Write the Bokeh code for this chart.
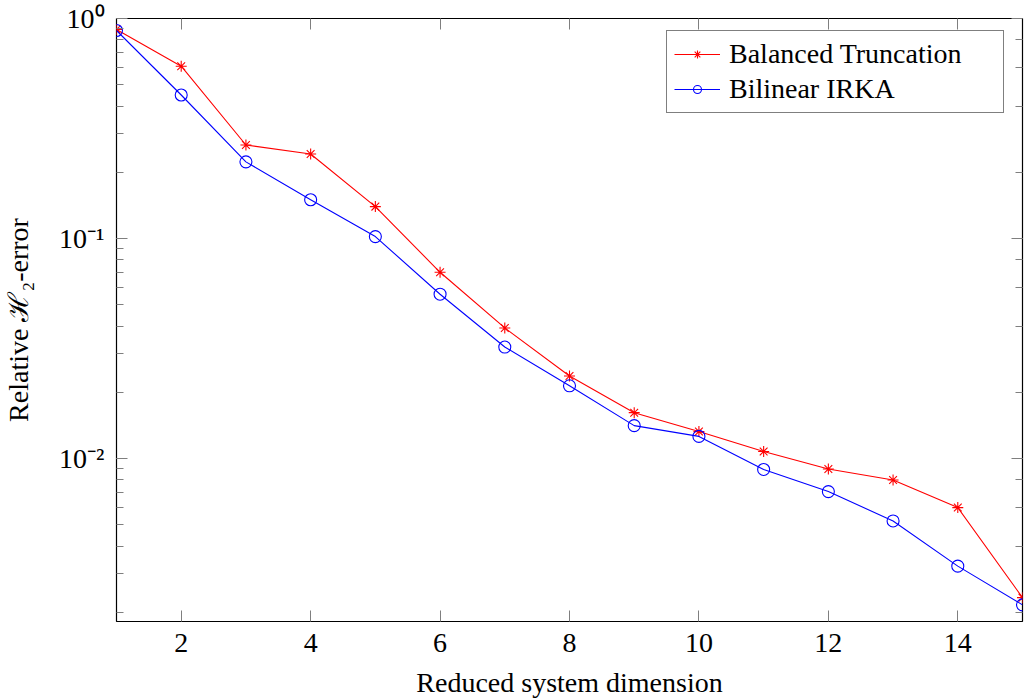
from bokeh.plotting import figure
from bokeh.models import Range1d, LinearAxis, LogAxis, CustomJSTickFormatter, FixedTicker, Legend, LegendItem
from bokeh.embed import file_html
from bokeh.resources import INLINE

dims = [1, 2, 3, 4, 5, 6, 7, 8, 9, 10, 11, 12, 13, 14, 15]
bt_err = [0.892, 0.607, 0.266, 0.242, 0.1396, 0.0702, 0.0392, 0.0237, 0.01615,
          0.01325, 0.01076, 0.00895, 0.00798, 0.00598, 0.00233]
irka_err = [0.882, 0.449, 0.223, 0.150, 0.102, 0.0558, 0.0321, 0.0214, 0.0141,
            0.0126, 0.00891, 0.00707, 0.0052, 0.00324, 0.00216]
x_ticks = [2, 4, 6, 8, 10, 12, 14]
x_label = "Reduced system dimension"
y_label = "Relative \u210B\u2082-error"
names = ["Balanced Truncation", "Bilinear IRKA"]

FONT = "Liberation Serif"
FS = "28px"
TICK = "#7f7f7f"

p = figure(width=1024, height=700, y_axis_type="log",
           x_range=Range1d(1, 15), y_range=Range1d(0.001815, 1.0),
           output_backend="svg", toolbar_location=None,
           min_border_left=115, min_border_right=2, min_border_top=18, min_border_bottom=78)
p.grid.visible = False
p.outline_line_color = "black"
p.outline_line_width = 1.2
p.background_fill_color = "white"
p.border_fill_color = "white"

sup = CustomJSTickFormatter(code="""
const e = Math.round(Math.log10(tick));
const m = {'-':'\u207B','0':'\u2070','1':'\u00B9','2':'\u00B2','3':'\u00B3','4':'\u2074','5':'\u2075','6':'\u2076','7':'\u2077','8':'\u2078','9':'\u2079'};
return '10' + String(e).split('').map(c => m[c]).join('');
""")
blank = CustomJSTickFormatter(code="return '';")

xa = p.xaxis[0]
xa.ticker = FixedTicker(ticks=x_ticks)
ya = p.yaxis[0]
ya.formatter = sup

for ax in (xa, ya):
    ax.major_tick_in = 11
    ax.major_tick_out = 0
    ax.minor_tick_in = 7
    ax.minor_tick_out = 0
    ax.major_tick_line_color = TICK
    ax.minor_tick_line_color = TICK
    ax.axis_line_color = None
    ax.major_label_text_font = FONT
    ax.major_label_text_font_size = FS
    ax.major_label_text_color = "black"
    ax.axis_label_text_font = FONT
    ax.axis_label_text_font_size = FS
    ax.axis_label_text_font_style = "normal"
    ax.axis_label_text_color = "black"
xa.minor_tick_line_color = None
xa.major_label_standoff = 12
xa.axis_label = x_label
xa.axis_label_standoff = 12
ya.major_label_standoff = 12
ya.axis_label = y_label
ya.axis_label_standoff = 22

top = LinearAxis(ticker=FixedTicker(ticks=x_ticks), formatter=blank,
                 major_label_text_font_size="1px", major_label_standoff=0,
                 axis_line_color=None, major_tick_in=11, major_tick_out=0,
                 major_tick_line_color=TICK, minor_tick_line_color=None)
right = LogAxis(formatter=blank, major_label_text_font_size="1px", major_label_standoff=0,
                axis_line_color=None, major_tick_in=11, major_tick_out=0,
                minor_tick_in=7, minor_tick_out=0,
                major_tick_line_color=TICK, minor_tick_line_color=TICK)
p.add_layout(top, "above")
p.add_layout(right, "right")

l1 = p.line(dims, bt_err, line_color="#ff0000", line_width=1.1)
m1 = p.scatter(dims, bt_err, marker="asterisk", size=11, line_color="#ff0000", line_width=1.1)
l2 = p.line(dims, irka_err, line_color="#0000ff", line_width=1.1)
m2 = p.scatter(dims, irka_err, marker="circle", size=12, line_color="#0000ff",
               fill_color=None, line_width=1.1)

legend = Legend(items=[LegendItem(label=names[0], renderers=[l1, m1]),
                       LegendItem(label=names[1], renderers=[l2, m2])],
                location=(550, 508), margin=0, padding=7, spacing=3,
                label_text_font=FONT, label_text_font_size=FS, label_standoff=9,
                label_text_color="black",
                glyph_width=46, label_width=267,
                border_line_color="black", border_line_width=1.2,
                background_fill_alpha=1.0)
p.add_layout(legend)

open("out.html", "w").write(file_html(p, INLINE))
